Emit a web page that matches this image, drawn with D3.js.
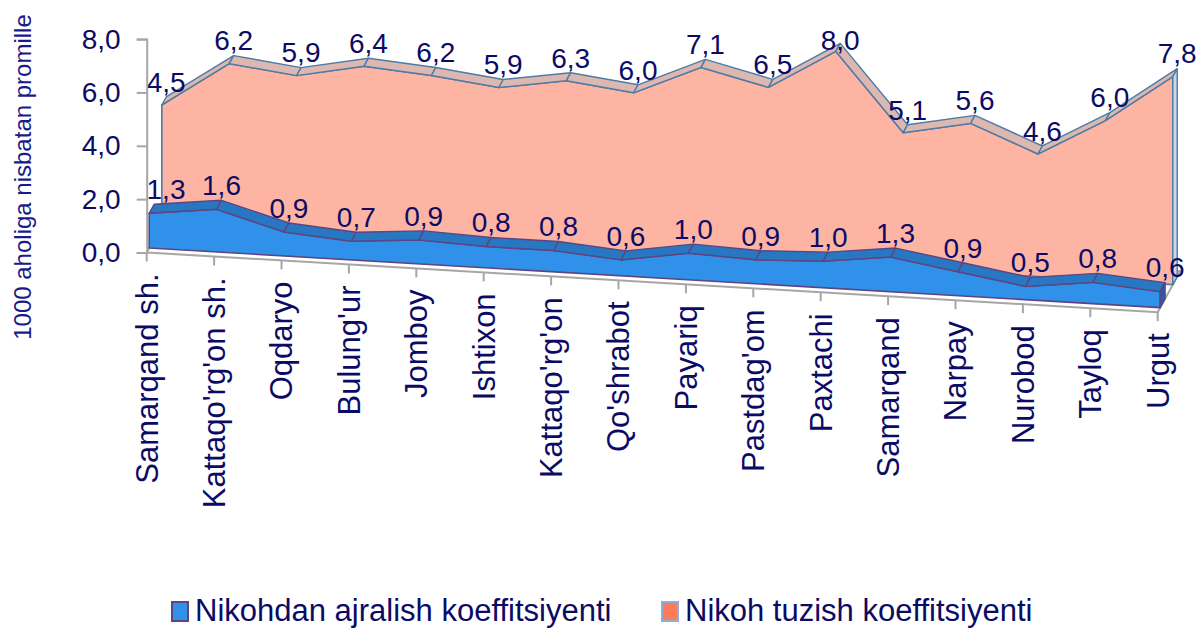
<!DOCTYPE html>
<html>
<head>
<meta charset="utf-8">
<script src="https://d3js.org/d3.v7.min.js"></script>
<style>
  body { margin: 0; background: #fff; }
  text { font-family: "Liberation Sans", Arial, sans-serif; }
</style>
</head>
<body>
<div id="chart"></div>
<script>
// data
var categories = ["Samarqand sh.", "Kattaqo'rg'on sh.", "Oqdaryo", "Bulung'ur", "Jomboy", "Ishtixon",
  "Kattaqo'rg'on", "Qo'shrabot", "Payariq", "Pastdag'om", "Paxtachi", "Samarqand", "Narpay",
  "Nurobod", "Tayloq", "Urgut"];
var divorceRate = [1.3, 1.6, 0.9, 0.7, 0.9, 0.8, 0.8, 0.6, 1.0, 0.9, 1.0, 1.3, 0.9, 0.5, 0.8, 0.6];
var marriageRate = [4.5, 6.2, 5.9, 6.4, 6.2, 5.9, 6.3, 6.0, 7.1, 6.5, 8.0, 5.1, 5.6, 4.6, 6.0, 7.8];
var yTicks = [0, 2, 4, 6, 8];
var seriesNames = ["Nikohdan ajralish koeffitsiyenti", "Nikoh tuzish koeffitsiyenti"];
var yTitle = "1000 aholiga nisbatan promille";

var width = 1197, height = 628;
var navy = "#0b0b66", grey = "#a6a6a6";

var svg = d3.select("#chart")
  .append("svg")
    .attr("width", width)
    .attr("height", height);

// category position along the front edge of the floor, value height
var x = d3.scalePoint().domain(categories).range([146.7, 1157.7]);
var y = d3.scaleLinear().domain([0, 8]).range([252.5, 39.1]);

// oblique "3d" projection: floor falls to the right, depth goes up and right
var slope = 0.059, depthX = 0.55, floorDepth = 41;
var first = categories[0], last = categories[categories.length - 1];
function proj(cat, v, z) {
  var px = x(cat);
  return [px + depthX * z, y(v) + (px - x(first)) * slope - z];
}
var line = d3.line();
var fmt = function(v) { return d3.format(".1f")(v).replace(".", ","); };

// floor
svg.append("path")
  .attr("d", line([proj(first, 0, 0), proj(last, 0, 0), proj(last, 0, floorDepth), proj(first, 0, floorDepth)]) + "Z")
  .attr("fill", "#fff")
  .attr("stroke", grey)
  .attr("stroke-width", 2);

// category ticks + labels
categories.forEach(function(c) {
  var p = proj(c, 0, 0);
  svg.append("line")
    .attr("x1", p[0]).attr("x2", p[0])
    .attr("y1", p[1]).attr("y2", p[1] + 9)
    .attr("stroke", grey).attr("stroke-width", 2);
  svg.append("text")
    .attr("transform", "translate(" + p[0] + "," + (p[1] + 21) + ")rotate(-90)")
    .attr("dy", "0.35em")
    .attr("text-anchor", "end")
    .attr("fill", navy)
    .style("font-size", "31px")
    .text(c);
});

// one row of the 3d area chart
function drawSeries(values, zf, zb, col) {
  var g = svg.append("g");
  var front = categories.map(function(c, i) { return proj(c, values[i], zf); });
  g.append("path")
    .attr("d", line([proj(first, 0, zf)].concat(front, [proj(last, 0, zf)])) + "Z")
    .attr("fill", col.front)
    .attr("stroke", col.stroke)
    .attr("stroke-width", 1.6)
    .attr("stroke-linejoin", "round");
  // top ribbon, one piece per segment
  for (var i = 0; i < categories.length - 1; i++) {
    var a = categories[i], b = categories[i + 1];
    g.append("path")
      .attr("d", line([proj(a, values[i], zf), proj(b, values[i + 1], zf),
                       proj(b, values[i + 1], zb), proj(a, values[i], zb)]) + "Z")
      .attr("fill", col.top)
      .attr("stroke", col.stroke)
      .attr("stroke-width", 1.4)
      .attr("stroke-linejoin", "round");
  }
  // right side
  var v = values[values.length - 1];
  g.append("path")
    .attr("d", line([proj(last, 0, zf), proj(last, v, zf), proj(last, v, zb), proj(last, 0, zb)]) + "Z")
    .attr("fill", col.side)
    .attr("stroke", col.stroke)
    .attr("stroke-width", 1.4);
}

drawSeries(marriageRate, 27.5, 35.5, {front: "#feb4a2", top: "#dcb8b0", side: "#c9d7e6", stroke: "#4d7ca6"});
drawSeries(divorceRate, 4.5, 13.5, {front: "#2f91e9", top: "#2777c2", side: "#1d5fae", stroke: "#5e4580"});

// value labels
function drawLabels(values, zb, off) {
  categories.forEach(function(c, i) {
    var p = proj(c, values[i], zb);
    svg.append("text")
      .attr("x", Math.max(p[0], 166))
      .attr("y", Math.max(p[1] - off, 40))
      .attr("dy", "0.35em")
      .attr("text-anchor", "middle")
      .attr("fill", navy)
      .style("font-size", "28px")
      .text(fmt(values[i]));
  });
}
drawLabels(marriageRate, 35.5, 15);
drawLabels(divorceRate, 13.5, 15);

// value axis
var yAxis = svg.append("g")
  .attr("transform", "translate(" + x(first) + ",0)")
  .call(d3.axisLeft(y).tickValues(yTicks).tickSize(10).tickPadding(16).tickFormat(fmt));
yAxis.selectAll("path, line").attr("stroke", grey).attr("stroke-width", 2);
yAxis.selectAll("text")
  .attr("fill", navy)
  .style("font-size", "28px")
  .style("font-family", "'Liberation Sans', Arial, sans-serif");

svg.append("text")
  .attr("transform", "translate(23,177)rotate(-90)")
  .attr("dy", "0.35em")
  .attr("text-anchor", "middle")
  .attr("fill", "#1a1a8a")
  .style("font-size", "24px")
  .text(yTitle);

// legend
var legendX = [172, 662];
var legendFill = ["#2f91e9", "#fb7d58"];
var legendStroke = ["#5e4580", "#8eaedb"];
seriesNames.forEach(function(name, i) {
  svg.append("rect")
    .attr("x", legendX[i]).attr("y", 602)
    .attr("width", 16).attr("height", 19)
    .attr("fill", legendFill[i])
    .attr("stroke", legendStroke[i])
    .attr("stroke-width", 2);
  svg.append("text")
    .attr("x", legendX[i] + 23)
    .attr("y", 620.5)
    .attr("fill", navy)
    .style("font-size", "31px")
    .text(name);
});
</script>
</body>
</html>
